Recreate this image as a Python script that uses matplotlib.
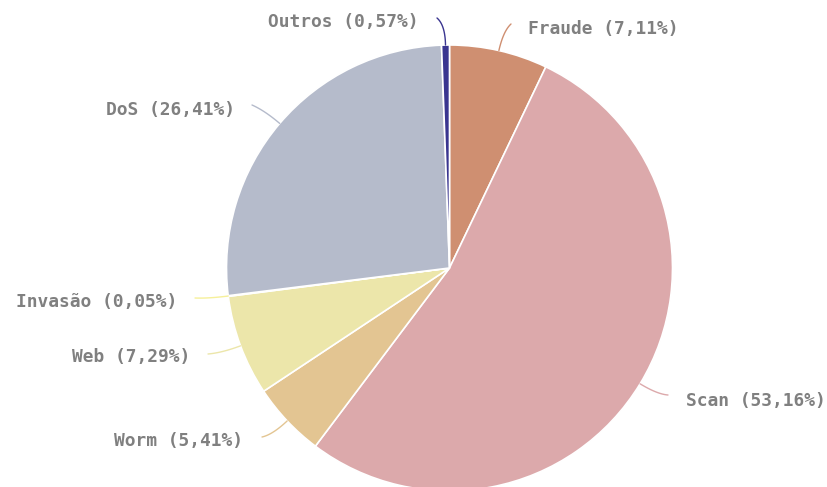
import matplotlib.pyplot as plt
import numpy as np

categorias = ['Fraude', 'Scan', 'Worm', 'Web', 'Invasão', 'DoS', 'Outros']
percentuais = [7.11, 53.16, 5.41, 7.29, 0.05, 26.41, 0.57]
cores = ['#cf8f71', '#dca9ab', '#e3c592', '#ece6aa', '#f6f09a', '#b5bbcb', '#3a3590']

W, H = 828, 487
cx, cy, raio = 449.5, H - 268, 223

# posição do texto (x, y em px a partir do topo), alinhamento, fim da linha guia
layout = {
    'Fraude':  (528, 29, 'left', 511, 24),
    'Scan':    (686, 401, 'left', 668, 395),
    'Worm':    (243, 441, 'right', 262, 437),
    'Web':     (190, 357, 'right', 208, 354),
    'Invasão': (177, 302, 'right', 195, 298),
    'DoS':     (235, 110, 'right', 252, 105),
    'Outros':  (419, 22, 'right', 437, 18),
}

fig = plt.figure(figsize=(W / 100, H / 100), dpi=100)
ax = fig.add_axes([0, 0, 1, 1])

wedges, _ = ax.pie(percentuais, colors=cores, startangle=90, counterclock=False,
                   center=(cx, cy), radius=raio, frame=True,
                   wedgeprops=dict(edgecolor='white', linewidth=1.2))
ax.set_xlim(0, W)
ax.set_ylim(0, H)
ax.set_aspect('equal')
ax.axis('off')

for w, nome, pct, cor in zip(wedges, categorias, percentuais, cores):
    tx, ty, ha, lx, ly = layout[nome]
    ang = np.deg2rad((w.theta1 + w.theta2) / 2)
    p0 = np.array([cx + raio * np.cos(ang), cy + raio * np.sin(ang)])
    p1 = np.array([cx + (raio + 20) * np.cos(ang), cy + (raio + 20) * np.sin(ang)])
    p2 = np.array([lx, H - ly])
    t = np.linspace(0, 1, 30)[:, None]
    curva = (1 - t) ** 2 * p0 + 2 * (1 - t) * t * p1 + t ** 2 * p2
    ax.plot(curva[:, 0], curva[:, 1], color=cor, lw=1, solid_capstyle='round')
    rotulo = f'{nome} ({pct:.2f}%)'.replace('.', ',')
    ax.text(tx, H - ty, rotulo, ha=ha, va='center', fontsize=12.9,
            family='DejaVu Sans Mono', color='#808080', fontweight='bold')

fig.savefig('out.png', dpi=100)
